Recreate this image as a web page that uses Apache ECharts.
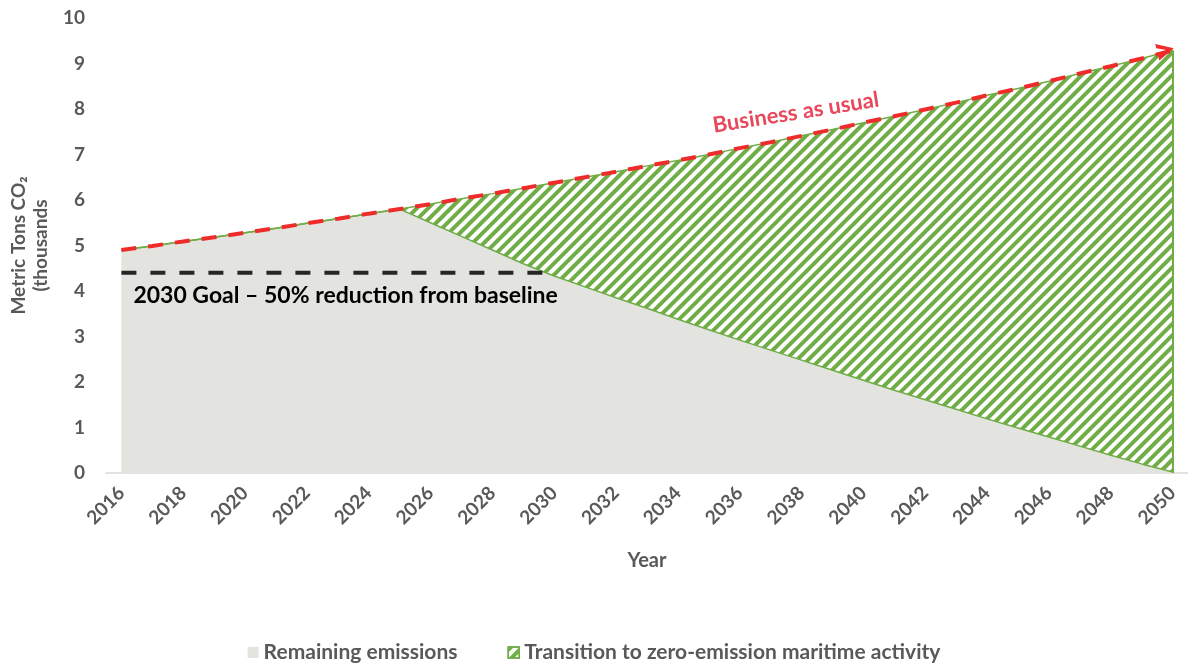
<!DOCTYPE html>
<html>
<head>
<meta charset="utf-8">
<script src="https://cdn.jsdelivr.net/npm/echarts@6/dist/echarts.min.js"></script>
<style>
  html, body { margin: 0; padding: 0; background: #fff; }
  #myChart { width: 1188px; height: 668px; }
</style>
</head>
<body>
<div id="myChart"></div>
<script>
// years on the x axis
var years = []
for (var y = 2016; y <= 2050; y++) years.push(String(y))

// business as usual (thousand metric tons CO2)
var bau = [4.90, 4.99, 5.09, 5.18, 5.28, 5.38, 5.49, 5.59, 5.70, 5.80,
  5.91, 6.03, 6.14, 6.26, 6.38, 6.50, 6.62, 6.75, 6.87, 7.00,
  7.14, 7.27, 7.41, 7.55, 7.70, 7.84, 7.99, 8.14, 8.30, 8.45,
  8.61, 8.78, 8.94, 9.11, 9.29]

// remaining emissions
var remaining = [4.90, 4.99, 5.09, 5.18, 5.28, 5.38, 5.49, 5.59, 5.70, 5.80,
  5.50, 5.20, 4.90, 4.60, 4.33, 4.09, 3.85, 3.62, 3.38, 3.15,
  2.92, 2.70, 2.48, 2.26, 2.04, 1.82, 1.61, 1.40, 1.19, 0.99,
  0.79, 0.59, 0.39, 0.20, 0.02]

// 2030 goal line
var goalValue = 4.4
var goalEndYear = '2030'

var green = '#70ad47'
var grey = '#e3e3df'
var textGrey = '#595959'
var font = 'Lato'

var transition = bau.map(function (v, i) { return +(v - remaining[i]).toFixed(2) })
var goal = years.slice(0, years.indexOf(goalEndYear) + 1).map(function () { return goalValue })

var hatch = {
  symbol: 'rect',
  symbolSize: 1,
  color: green,
  dashArrayX: [1, 0],
  dashArrayY: [3.5, 4],
  rotation: -Math.PI / 4
}

var bauData = bau.map(function (v, i) {
  var item = { value: v }
  if (years[i] === '2038') {
    item.symbol = 'circle'
    item.symbolSize = 0.01
    item.label = {
      show: true,
      position: 'top',
      distance: 13,
      offset: [-4, 0],
      rotate: 9,
      formatter: 'Business as usual',
      color: '#e8485c',
      fontFamily: font,
      fontWeight: 'bold',
      fontSize: 22
    }
  }
  if (i === bau.length - 1) {
    item.symbol = 'path://M0,0 L18,8 L0,16 L0,12 L10,8 L0,4 Z'
    item.symbolSize = [17, 17]
    item.symbolRotate = 14
    item.symbolOffset = [-7, 0]
    item.itemStyle = { color: '#ef2b2b' }
  }
  return item
})

var goalData = goal.map(function (v, i) {
  var item = { value: v }
  if (i === 0) {
    item.symbol = 'circle'
    item.symbolSize = 0.01
    item.label = {
      show: true,
      position: 'bottom',
      align: 'left',
      distance: 11,
      offset: [12, 0],
      formatter: '2030 Goal \u2013 50% reduction from baseline',
      color: '#000',
      fontFamily: font,
      fontWeight: 'bold',
      fontSize: 23
    }
  }
  return item
})

var myChart = echarts.init(document.getElementById('myChart'))
myChart.setOption({
  animation: false,
  textStyle: { fontFamily: font },
  grid: { left: 103, top: 18, width: 1088, height: 455 },
  legend: {
    bottom: 0,
    left: 'center',
    itemWidth: 11,
    itemHeight: 11,
    itemGap: 50,
    textStyle: { color: textGrey, fontWeight: 'bold', fontSize: 21, fontFamily: font },
    data: [
      { name: 'Remaining emissions', icon: 'rect', itemStyle: { color: grey } },
      {
        name: 'Transition to zero-emission maritime activity',
        icon: 'rect',
        itemStyle: { color: '#fff', borderColor: green, borderWidth: 1.5, decal: hatch }
      }
    ]
  },
  xAxis: {
    type: 'category',
    data: years,
    boundaryGap: true,
    name: 'Year',
    nameLocation: 'middle',
    nameGap: 78,
    nameTextStyle: { color: textGrey, fontWeight: 'bold', fontSize: 20 },
    axisLine: { lineStyle: { color: '#d9d9d9', width: 1.5 } },
    axisTick: { show: false },
    axisLabel: {
      interval: 1,
      rotate: 45,
      margin: 17,
      color: textGrey,
      fontWeight: 'bold',
      fontSize: 19
    }
  },
  yAxis: {
    type: 'value',
    min: 0,
    max: 10,
    interval: 1,
    name: 'Metric Tons CO\u2082\n(thousands',
    nameLocation: 'middle',
    nameRotate: 90,
    nameGap: 40,
    nameTextStyle: { color: textGrey, fontWeight: 'bold', fontSize: 19, lineHeight: 22 },
    axisLine: { show: false },
    axisTick: { show: false },
    splitLine: { show: false },
    axisLabel: { margin: 21, color: textGrey, fontWeight: 'bold', fontSize: 19 }
  },
  series: [
    {
      name: 'Remaining emissions',
      type: 'line',
      stack: 'total',
      data: remaining,
      symbol: 'none',
      itemStyle: { color: grey },
      lineStyle: { color: green, width: 1.5 },
      areaStyle: { color: grey, opacity: 1 }
    },
    {
      name: 'Transition to zero-emission maritime activity',
      type: 'line',
      stack: 'total',
      data: transition,
      symbol: 'none',
      itemStyle: { color: '#fff', decal: hatch },
      lineStyle: { color: green, width: 1.5 },
      areaStyle: { color: '#fff', opacity: 1 },
      markLine: {
        silent: true,
        symbol: 'none',
        label: { show: false },
        lineStyle: { color: green, type: 'solid', width: 2 },
        data: [[
          { coord: [years[years.length - 1], 0] },
          { coord: [years[years.length - 1], bau[bau.length - 1]] }
        ]]
      }
    },
    {
      name: 'Business as usual',
      type: 'line',
      data: bauData,
      symbol: 'none',
      lineStyle: { color: '#ef2b2b', width: 4, type: [15, 12] },
      itemStyle: { color: '#ef2b2b' },
      z: 5
    },
    {
      name: 'Goal',
      type: 'line',
      data: goalData,
      symbol: 'none',
      lineStyle: { color: '#262626', width: 4, type: [15, 14] },
      itemStyle: { color: '#262626' },
      z: 5
    }
  ]
})
</script>
</body>
</html>
